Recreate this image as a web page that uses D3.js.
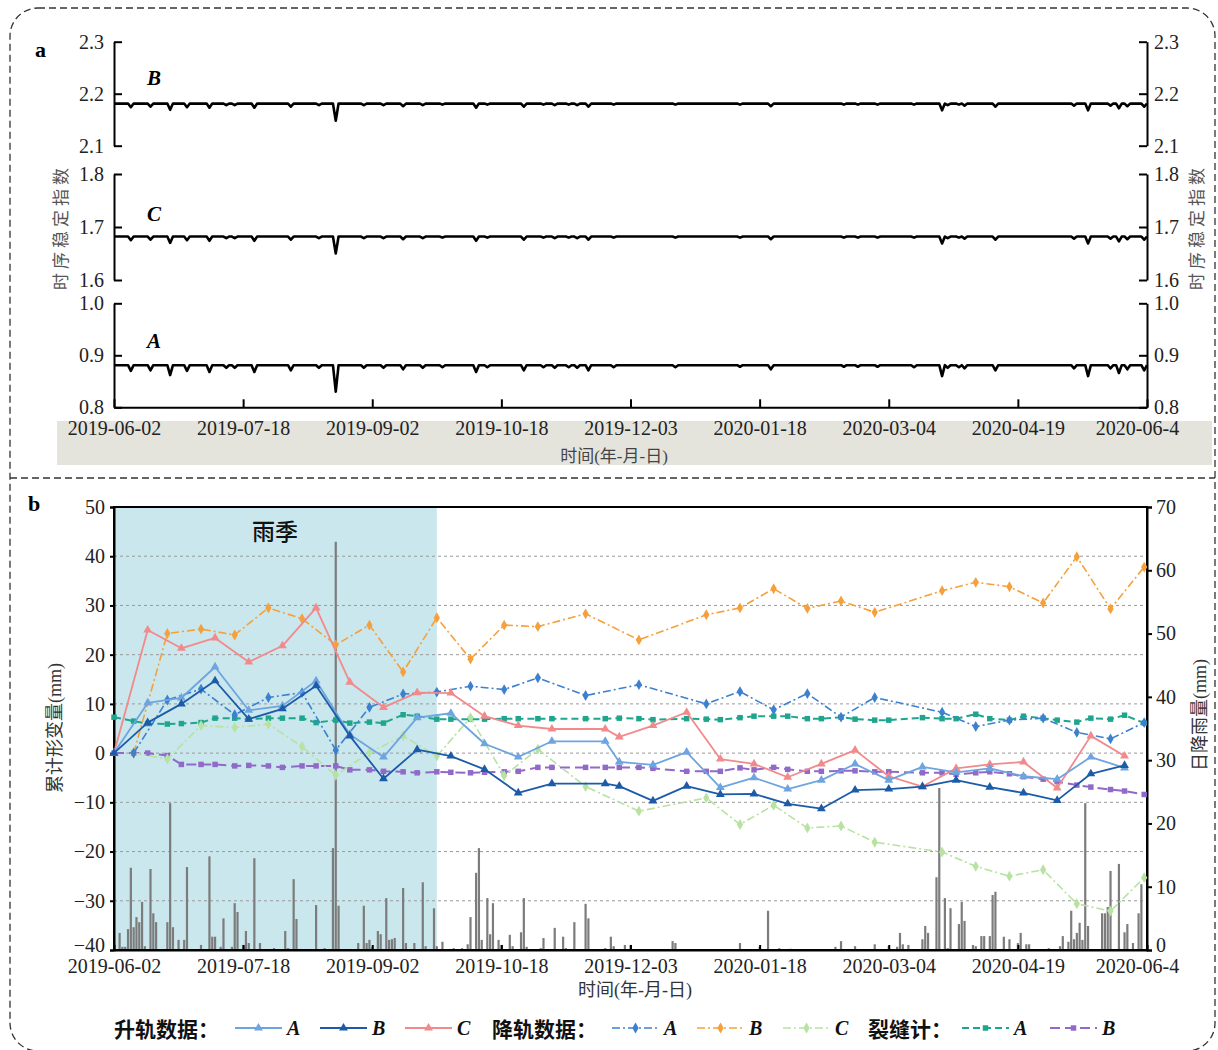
<!DOCTYPE html>
<html><head><meta charset="utf-8">
<script src="https://cdn.jsdelivr.net/npm/d3@7"></script>
<style>body{margin:0;background:#fff}svg{display:block}</style>
</head><body><svg id="c" width="1218" height="1050"></svg>
<script>
// ---------------- DATA ----------------
const tickDates  = ["2019-06-02","2019-07-18","2019-09-02","2019-10-18","2019-12-03","2020-01-18","2020-03-04","2020-04-19","2020-06-04"];
const tickLabels = ["2019-06-02","2019-07-18","2019-09-02","2019-10-18","2019-12-03","2020-01-18","2020-03-04","2020-04-19","2020-06-4"];

// panel a: time-series stability index (flat baseline with dips; day offset from 2019-06-02)
const tsBaseA = 0.881, tsBaseB = 2.181, tsBaseC = 1.682;
const tsDipDays = [6,13,20,26,34,40,43,50,63,73,79,89,96,103,110,117,129,133,146,153,157,162,165,169,178,200,223,234,260,265,272,285,295,297,301,303,314,342,347,355,358,361,367];
const tsDipA = [0.870,0.871,0.862,0.870,0.868,0.876,0.876,0.868,0.871,0.876,0.830,0.876,0.876,0.873,0.876,0.877,0.868,0.877,0.871,0.877,0.876,0.877,0.876,0.871,0.877,0.877,0.878,0.873,0.878,0.878,0.878,0.877,0.860,0.876,0.877,0.875,0.871,0.875,0.860,0.875,0.866,0.873,0.871];
const tsDipB = [2.174,2.175,2.169,2.174,2.173,2.178,2.178,2.173,2.175,2.178,2.148,2.178,2.178,2.176,2.178,2.179,2.173,2.179,2.175,2.179,2.178,2.179,2.178,2.175,2.179,2.179,2.179,2.176,2.179,2.179,2.179,2.179,2.168,2.178,2.179,2.177,2.175,2.177,2.168,2.177,2.172,2.176,2.175];
const tsDipC = [1.675,1.676,1.670,1.675,1.674,1.679,1.679,1.674,1.676,1.679,1.650,1.679,1.679,1.677,1.679,1.680,1.674,1.680,1.676,1.680,1.679,1.680,1.679,1.676,1.680,1.680,1.680,1.677,1.680,1.680,1.680,1.680,1.669,1.679,1.680,1.678,1.676,1.678,1.669,1.678,1.673,1.677,1.676];

// panel b: ascending InSAR (mm)
const ascDates = ["2019-06-02","2019-06-14","2019-06-26","2019-07-08","2019-07-20","2019-08-01","2019-08-13","2019-08-25","2019-09-06","2019-09-18","2019-09-30","2019-10-12","2019-10-24","2019-11-05","2019-11-24","2019-11-29","2019-12-11","2019-12-23","2020-01-04","2020-01-16","2020-01-28","2020-02-09","2020-02-21","2020-03-04","2020-03-16","2020-03-28","2020-04-09","2020-04-21","2020-05-03","2020-05-15","2020-05-27"];
const ascA = [0,10.2,11.2,17.5,8.7,9.6,14.7,3.8,-0.8,7.2,8.1,1.9,-0.8,2.4,2.4,-1.8,-2.4,0.2,-7.0,-5.0,-7.3,-5.5,-2.2,-5.5,-2.8,-3.9,-3.1,-4.7,-5.3,-0.8,-3.0];
const ascB = [0,6.2,10.0,14.7,6.9,9.0,13.7,3.5,-5.2,0.7,-0.6,-3.3,-8.1,-6.2,-6.2,-6.7,-9.7,-6.7,-8.4,-8.3,-10.3,-11.3,-7.5,-7.3,-6.8,-5.5,-6.9,-8.1,-9.6,-4.2,-2.5];
const ascC = [0,25.0,21.3,23.4,18.5,21.8,29.5,14.4,9.3,12.3,12.2,7.5,5.6,4.9,4.9,3.3,5.6,8.3,-1.2,-2.2,-4.9,-2.2,0.6,-4.7,-6.8,-3.1,-2.3,-1.8,-7.1,3.5,-0.6];

// descending InSAR (mm)
const descDates = ["2019-06-09","2019-06-21","2019-07-03","2019-07-15","2019-07-27","2019-08-08","2019-08-20","2019-09-01","2019-09-13","2019-09-25","2019-10-07","2019-10-19","2019-10-31","2019-11-17","2019-12-06","2019-12-30","2020-01-11","2020-01-23","2020-02-04","2020-02-16","2020-02-28","2020-03-23","2020-04-04","2020-04-16","2020-04-28","2020-05-10","2020-05-22","2020-06-03"];
const descA = [0,10.8,13.0,7.8,11.3,12.3,0.6,9.3,12.0,12.4,13.6,12.9,15.3,11.7,13.9,10.0,12.5,8.8,12.1,7.3,11.3,8.3,5.4,6.7,7.1,4.2,2.9,6.2];
const descB = [0,24.3,25.2,24.0,29.5,27.3,22.0,26.0,16.5,27.5,19.1,26.0,25.7,28.3,23.0,28.1,29.5,33.4,29.4,30.9,28.6,33.0,34.7,33.8,30.5,39.9,29.3,37.8];
const descC = [0,-1.2,5.6,5.2,5.9,1.3,-4.5,0.1,3.5,-0.6,7.2,-4.6,0.8,-6.8,-11.8,-9.1,-14.5,-10.6,-15.2,-14.8,-18.1,-20.1,-23.0,-25.0,-23.7,-30.6,-32.1,-25.3];

// crack meters (mm)
const crackDates = ["2019-06-02","2019-06-09","2019-06-14","2019-06-21","2019-06-26","2019-07-03","2019-07-08","2019-07-15","2019-07-20","2019-07-27","2019-08-01","2019-08-08","2019-08-13","2019-08-20","2019-08-25","2019-09-01","2019-09-06","2019-09-13","2019-09-18","2019-09-25","2019-09-30","2019-10-07","2019-10-12","2019-10-19","2019-10-24","2019-10-31","2019-11-05","2019-11-17","2019-11-24","2019-11-29","2019-12-06","2019-12-11","2019-12-23","2019-12-30","2020-01-04","2020-01-11","2020-01-16","2020-01-23","2020-01-28","2020-02-04","2020-02-09","2020-02-16","2020-02-21","2020-02-28","2020-03-04","2020-03-16","2020-03-23","2020-03-28","2020-04-04","2020-04-09","2020-04-16","2020-04-21","2020-04-28","2020-05-03","2020-05-10","2020-05-15","2020-05-22","2020-05-27","2020-06-03"];
const crackA = [7.3,6.5,6.0,5.9,6.0,6.2,7.1,7.1,6.9,7.1,7.1,7.1,6.2,6.7,6.1,6.3,6.1,7.8,7.5,6.9,6.9,6.9,6.9,7.0,7.0,7.0,7.0,7.0,7.0,7.1,7.0,6.8,7.0,6.9,6.8,7.2,7.5,7.5,7.5,7.0,7.0,7.3,6.9,6.7,6.7,7.2,7.0,7.0,7.9,7.0,6.7,7.5,7.1,6.7,6.3,7.1,6.9,7.7,6.1];
const crackB = [0,0,0,-0.5,-2.3,-2.3,-2.3,-2.6,-2.5,-2.6,-2.9,-2.6,-2.6,-2.6,-3.4,-3.4,-3.7,-3.8,-4.0,-3.8,-3.9,-4.0,-3.9,-3.8,-3.7,-2.9,-2.9,-2.9,-2.9,-2.9,-2.9,-3.1,-3.7,-3.7,-3.7,-3.0,-3.4,-2.9,-3.3,-3.7,-3.7,-3.6,-3.6,-3.8,-3.8,-4.0,-4.0,-4.3,-4.0,-3.8,-4.2,-4.8,-5.3,-5.8,-6.5,-6.9,-7.4,-7.7,-8.4];

// daily rainfall: [day offset from 2019-06-02, mm]
const rain = [[2,2.7],[3,0.5],[4,0.5],[5,3.3],[6,13.0],[7,3.6],[8,5.2],[9,4.4],[10,7.6],[11,0.6],[13,12.8],[14,5.8],[15,4.4],[19,4.4],[20,23.2],[21,3.6],[23,1.6],[25,1.6],[26,13.1],[31,0.8],[34,14.8],[35,2.1],[36,2.1],[38,0.5],[39,5.0],[42,0.5],[43,7.4],[44,6.0],[46,0.8],[47,3.0],[48,1.1],[50,14.5],[52,1.1],[57,0.3],[61,3.0],[62,0.3],[64,11.2],[65,4.9],[72,7.1],[75,0.3],[78,16.1],[79,64.5],[80,7.0],[87,1.1],[89,7.0],[90,1.1],[91,1.6],[92,0.5],[94,3.0],[95,2.5],[97,8.2],[98,1.6],[99,1.7],[100,1.9],[103,9.8],[104,1.1],[107,1.1],[110,10.7],[111,0.6],[114,6.6],[115,0.6],[117,1.3],[121,0.3],[124,0.3],[126,0.9],[127,5.2],[129,12.2],[130,16.1],[131,1.6],[133,8.2],[134,2.5],[135,7.4],[137,1.6],[138,0.8],[141,2.4],[142,0.6],[145,2.8],[146,8.2],[147,0.5],[152,0.3],[153,1.9],[157,3.5],[160,2.1],[161,0.3],[164,4.4],[168,7.3],[169,5.0],[175,0.3],[177,2.1],[178,0.6],[182,0.8],[184,0.8],[199,1.4],[200,1.1],[223,1.1],[230,0.5],[233,6.2],[237,0.3],[241,0.2],[257,0.5],[259,1.4],[264,0.6],[271,0.9],[276,0.6],[279,0.5],[280,2.7],[281,0.9],[283,0.8],[288,1.7],[289,3.8],[290,2.7],[293,11.5],[294,25.6],[296,8.2],[297,0.3],[298,6.6],[301,4.1],[302,7.6],[303,4.6],[306,0.8],[307,0.6],[309,2.2],[310,2.2],[312,2.2],[313,8.7],[314,9.2],[317,2.1],[319,1.7],[322,1.1],[323,2.7],[325,0.9],[326,0.9],[333,0.3],[337,0.6],[338,2.2],[340,1.3],[341,6.2],[342,1.7],[343,2.7],[344,4.3],[345,1.6],[346,23.2],[347,3.8],[352,5.8],[353,5.8],[354,6.8],[355,12.5],[358,13.6],[360,2.8],[361,4.1],[363,1.1],[365,5.8],[366,10.4]];

const rainSeason = ["2019-06-02","2019-09-25"];
const leftTicks = [-40,-30,-20,-10,0,10,20,30,40,50];
const rightTicks = [0,10,20,30,40,50,60,70];

// ---------------- DRAW ----------------
const parse = d3.timeParse("%Y-%m-%d");
const start = parse("2019-06-02"), end = parse("2020-06-04");
const svg = d3.select("#c");
const SERIF = "Liberation Serif, Times New Roman, serif";
const CJK = "Noto Sans CJK SC, Noto Sans, sans-serif";
const MIX = "Liberation Serif, Noto Sans CJK SC, serif";
const X0 = 114, X1 = 1147;
const x = d3.scaleTime().domain([start, end]).range([X0, X1]);
const dayDate = d => d3.timeDay.offset(start, d);

// outer dashed frame
svg.append("rect").attr("x",10).attr("y",8).attr("width",1205).attr("height",1043).attr("rx",28)
  .attr("fill","none").attr("stroke","#333").attr("stroke-width",1.3).attr("stroke-dasharray","7,4");
svg.append("line").attr("x1",10).attr("x2",1215).attr("y1",478).attr("y2",478)
  .attr("stroke","#333").attr("stroke-width",1.3).attr("stroke-dasharray","7,4");

function styleAxis(g, size){
  g.attr("font-family",null).attr("font-size",null);
  g.selectAll("text").attr("fill","#222").style("font-family",SERIF).style("font-size",(size||20)+"px");
  g.selectAll("line,path").attr("stroke","#000").attr("stroke-width",2);
}

// ---- panel a ----
svg.append("rect").attr("x",57).attr("y",421).attr("width",1155).attr("height",44).attr("fill","#e4e4dd");
svg.append("text").attr("x",35).attr("y",57).style("font-family",SERIF).attr("font-weight","bold").attr("font-size",22).text("a");

const subPanels = [
  {name:"B", dom:[2.1,2.3], rng:[145.7,41.7], base:tsBaseB, dips:tsDipB, ly:85},
  {name:"C", dom:[1.6,1.8], rng:[280,174],    base:tsBaseC, dips:tsDipC, ly:221},
  {name:"A", dom:[0.8,1.0], rng:[407.3,303.3],base:tsBaseA, dips:tsDipA, ly:348}
];
subPanels.forEach(p => {
  const y = d3.scaleLinear().domain(p.dom).range(p.rng);
  const vals = [p.dom[0], (p.dom[0]+p.dom[1])/2, p.dom[1]];
  svg.append("g").attr("transform",`translate(${X0},0)`)
    .call(d3.axisLeft(y).tickValues(vals).tickSizeInner(-8).tickSizeOuter(0).tickPadding(10).tickFormat(d3.format(".1f")))
    .call(g=>styleAxis(g,20));
  svg.append("g").attr("transform",`translate(${X1},0)`)
    .call(d3.axisRight(y).tickValues(vals).tickSizeInner(-8).tickSizeOuter(0).tickPadding(7).tickFormat(d3.format(".1f")))
    .call(g=>styleAxis(g,20));
  const pts = [[0,p.base]];
  tsDipDays.forEach((d,i)=>{ pts.push([d-1,p.base],[d,p.dips[i]],[d+1,p.base]); });
  pts.push([368,p.base]);
  svg.append("path").datum(pts)
    .attr("d", d3.line().x(d=>x(dayDate(d[0]))).y(d=>y(d[1])))
    .attr("fill","none").attr("stroke","#000").attr("stroke-width",2.6).attr("stroke-linejoin","round");
  svg.append("text").attr("x",147).attr("y",p.ly).style("font-family",SERIF).attr("font-weight","bold")
    .attr("font-style","italic").attr("font-size",21).text(p.name);
});
const gxa = svg.append("g").attr("transform","translate(0,407.3)")
  .call(d3.axisBottom(x).tickValues(tickDates.map(parse)).tickSizeInner(-8).tickSizeOuter(0).tickPadding(14).tickFormat((d,i)=>tickLabels[i]))
  .call(g=>styleAxis(g,20));
gxa.selectAll(".tick text").filter((d,i)=>i===tickLabels.length-1).attr("x",-10);
svg.append("text").attr("x",614).attr("y",462).attr("text-anchor","middle").style("font-family",MIX)
  .attr("font-size",17).attr("fill","#444").text("时间(年-月-日)");
[[61,227],[1197,227]].forEach(([cx,cy])=>{
  svg.append("text").attr("transform",`translate(${cx},${cy}) rotate(-90)`).attr("text-anchor","middle")
    .attr("dy","0.35em").style("font-family",CJK).attr("font-size",17).attr("letter-spacing",4)
    .attr("fill","#555").text("时序稳定指数");
});

// ---- panel b ----
const yL = d3.scaleLinear().domain([-40,50]).range([950,507]);
const yR = d3.scaleLinear().domain([0,70]).range([950,507]);
svg.append("text").attr("x",28).attr("y",511).style("font-family",SERIF).attr("font-weight","bold").attr("font-size",22).text("b");

svg.append("rect").attr("x",x(parse(rainSeason[0]))).attr("y",yL(50))
  .attr("width",x(parse(rainSeason[1]))-x(parse(rainSeason[0]))).attr("height",yL(-40)-yL(50)).attr("fill","#c9e7ec");
svg.append("text").attr("x",275).attr("y",540).attr("text-anchor","middle").style("font-family",CJK)
  .attr("font-size",23).attr("font-weight",500).attr("fill","#111").text("雨季");

// grid
svg.append("g").selectAll("line").data(leftTicks.filter(v=>v>-40 && v<50)).join("line")
  .attr("x1",X0).attr("x2",X1).attr("y1",d=>yL(d)).attr("y2",d=>yL(d))
  .attr("stroke","#9a9a9a").attr("stroke-width",1).attr("stroke-dasharray","3,3");

// rain bars
svg.append("g").selectAll("rect").data(rain).join("rect")
  .attr("x",d=>x(dayDate(d[0]))-1.1).attr("width",2.2)
  .attr("y",d=>yR(d[1])).attr("height",d=>yR(0)-yR(d[1])).attr("fill","#7c7c7c");

// frame & axes
svg.append("rect").attr("x",X0).attr("y",507).attr("width",X1-X0).attr("height",443)
  .attr("fill","none").attr("stroke","#000").attr("stroke-width",2);
const minusFmt = d => d<0 ? "\u2212"+Math.abs(d) : String(d);
const gl = svg.append("g").attr("transform",`translate(${X0},0)`)
  .call(d3.axisLeft(yL).tickValues(leftTicks).tickSize(4).tickPadding(5).tickFormat(minusFmt))
  .call(g=>styleAxis(g,20));
gl.selectAll(".tick text").filter(d=>d===-40).attr("dy","0.05em");
const gr = svg.append("g").attr("transform",`translate(${X1},0)`)
  .call(d3.axisRight(yR).tickValues(rightTicks).tickSize(5).tickPadding(4))
  .call(g=>styleAxis(g,20));
gr.selectAll(".tick text").filter(d=>d===0).attr("dy","0.07em");
const gxb = svg.append("g").attr("transform","translate(0,950)")
  .call(d3.axisBottom(x).tickValues(tickDates.map(parse)).tickSizeInner(-5).tickSizeOuter(0).tickPadding(9).tickFormat((d,i)=>tickLabels[i]))
  .call(g=>styleAxis(g,20));
gxb.selectAll(".tick text").filter((d,i)=>i===tickLabels.length-1).attr("x",-10);

svg.append("text").attr("x",635).attr("y",996).attr("text-anchor","middle").style("font-family",MIX)
  .attr("font-size",18).attr("fill","#333").text("时间(年-月-日)");
svg.append("text").attr("transform","translate(55,728) rotate(-90)").attr("text-anchor","middle").attr("dy","0.35em")
  .style("font-family",MIX).attr("font-size",18).attr("fill","#333").text("累计形变量(mm)");
svg.append("text").attr("transform","translate(1200,715) rotate(-90)").attr("text-anchor","middle").attr("dy","0.35em")
  .style("font-family",MIX).attr("font-size",18).attr("fill","#333").text("日降雨量(mm)");

// series
const series = [
  {dates:crackDates, vals:crackA, color:"#1ea58e", dash:"7,4",     w:2,   sym:d3.symbolSquare,  size:30},
  {dates:crackDates, vals:crackB, color:"#9169c8", dash:"10,5",    w:2,   sym:d3.symbolSquare,  size:30},
  {dates:descDates,  vals:descC,  color:"#b7e2a2", dash:"8,3,2,3", w:1.6, sym:d3.symbolDiamond, size:34},
  {dates:descDates,  vals:descB,  color:"#f5a03c", dash:"8,3,2,3", w:1.6, sym:d3.symbolDiamond, size:34},
  {dates:descDates,  vals:descA,  color:"#3d80cf", dash:"8,3,2,3", w:1.6, sym:d3.symbolDiamond, size:34},
  {dates:ascDates,   vals:ascC,   color:"#f28a8c", dash:null,      w:1.8, sym:d3.symbolTriangle,size:34},
  {dates:ascDates,   vals:ascA,   color:"#6ea4e0", dash:null,      w:1.8, sym:d3.symbolTriangle,size:34},
  {dates:ascDates,   vals:ascB,   color:"#1c5ba8", dash:null,      w:1.8, sym:d3.symbolTriangle,size:34}
];
series.forEach(s => {
  const pts = s.dates.map((d,i)=>[x(parse(d)), yL(s.vals[i])]);
  svg.append("path").datum(pts).attr("d", d3.line())
    .attr("fill","none").attr("stroke",s.color).attr("stroke-width",s.w)
    .attr("stroke-dasharray",s.dash).attr("stroke-linejoin","round");
  svg.append("g").selectAll("path").data(pts).join("path")
    .attr("transform",d=>`translate(${d[0]},${d[1]})`)
    .attr("d", d3.symbol().type(s.sym).size(s.size)).attr("fill",s.color);
});

// legend
const LY = 1028;
const legendGroups = [
  {title:"升轨数据：", tx:114, items:[[6,"A",235],[7,"B",320],[5,"C",405]]},
  {title:"降轨数据：", tx:492, items:[[4,"A",612],[3,"B",697],[2,"C",783]]},
  {title:"裂缝计：",   tx:868, items:[[0,"A",962],[1,"B",1050]]}
];
legendGroups.forEach(g => {
  svg.append("text").attr("x",g.tx).attr("y",LY+9).style("font-family",CJK).attr("font-weight","bold")
    .attr("font-size",21).attr("fill","#111").text(g.title);
  g.items.forEach(([si,lab,lx]) => {
    const s = series[si];
    svg.append("line").attr("x1",lx).attr("x2",lx+47).attr("y1",LY).attr("y2",LY)
      .attr("stroke",s.color).attr("stroke-width",s.w).attr("stroke-dasharray",s.dash);
    svg.append("path").attr("transform",`translate(${lx+23.5},${LY})`)
      .attr("d", d3.symbol().type(s.sym).size(s.size)).attr("fill",s.color);
    svg.append("text").attr("x",lx+52).attr("y",LY+7).style("font-family",SERIF).attr("font-weight","bold")
      .attr("font-style","italic").attr("font-size",20).attr("fill","#111").text(lab);
  });
});
</script></body></html>
